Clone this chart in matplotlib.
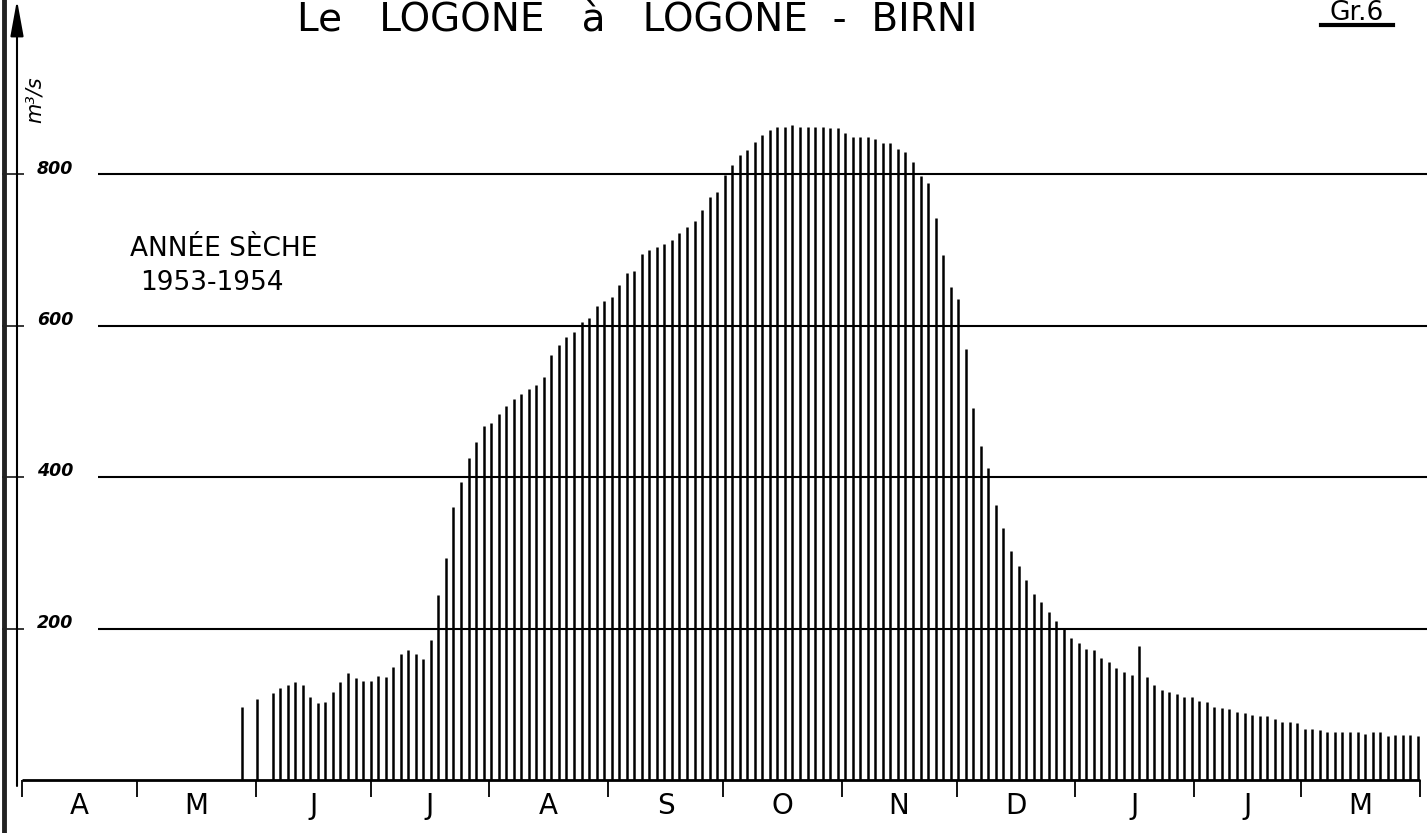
import numpy as np
import matplotlib
matplotlib.use("Agg")
import matplotlib.pyplot as plt
from matplotlib.lines import Line2D

# Logone a Logone-Birni, annee seche 1953-1954, debits en m3/s
# jours comptes depuis le 1er avril
early_days = [57.5, 61.4]
early_flow = [97, 107]

flow_start = 65.45   # premier trait regulier
flow_step = 1.967    # un trait tous les ~2 jours
flow = [115, 121, 125, 129, 125, 110, 102, 103, 116, 130, 141, 135, 131, 131,
        137, 136, 149, 166, 172, 166, 160, 185,
        245, 293, 360, 394, 425, 446, 467, 472, 484, 494, 503,
        510, 516, 522,
        532, 561, 575, 585, 592, 605, 610, 626, 633, 638, 654, 670, 673, 695,
        700, 704, 708, 714, 722,
        731, 738, 753, 770, 777, 799, 812, 825, 832, 843, 852, 858, 862, 862,
        865, 862, 863, 863, 863, 861, 861, 855, 850, 849, 849, 847, 842, 842,
        834, 830, 816, 798, 788, 743, 694, 651,
        636, 570, 492, 441, 412, 363, 333, 302, 283, 264, 246, 235, 222, 210,
        200, 188, 181, 173, 172, 161, 156, 148, 143, 139, 177, 136, 126, 119,
        116, 113, 110, 109, 105, 103, 97, 95, 94, 90, 88, 86, 85, 84, 80, 77,
        77, 75, 68, 68, 66, 63, 63, 63, 64, 63, 61, 64, 63, 58, 59, 59, 59, 58]

month_labels = ["A", "M", "J", "J", "A", "S", "O", "N", "D", "J", "J", "M"]
month_len = [30, 31, 30, 31, 31, 30, 31, 30, 31, 31, 28, 31]
y_levels = [200, 400, 600, 800]

W, H = 1427, 833
X0, PX_DAY = 22, 3.83      # pixel du 1er avril, pixels par jour
Y0, PX_Q = 780, 0.757      # pixel du zero, pixels par m3/s


def px_x(px):
    return (px - X0) / PX_DAY


def px_y(py):
    return (Y0 - py) / PX_Q


fig = plt.figure(figsize=(W / 100, H / 100), dpi=100)
ax = fig.add_axes([0, 0, 1, 1])
ax.set_xlim(px_x(0), px_x(W))
ax.set_ylim(px_y(H), px_y(0))
ax.axis("off")

# traits verticaux
days = flow_start + flow_step * np.arange(len(flow))
ax.vlines(early_days, 0, early_flow, color="black", lw=1.8)
ax.vlines(days, 0, flow, color="black", lw=1.8)

# grille horizontale + graduations
ax.hlines(y_levels, px_x(98), px_x(W), color="black", lw=1.5)
ax.hlines(y_levels, px_x(2), px_x(24), color="black", lw=1.1)
for v in y_levels:
    ax.text(px_x(37), v + 1, str(v), fontsize=12.5, fontweight="bold",
            style="italic", va="baseline", ha="left")

# axe des temps
bounds = np.cumsum([0] + month_len)
ax.hlines(0, 0, bounds[-1], color="black", lw=2)
ax.vlines(bounds, px_y(797), 0, color="black", lw=1.3)
mids = (bounds[:-1] + bounds[1:]) / 2
for m, lab in zip(mids, month_labels):
    ax.text(m, px_y(806), lab, fontsize=20, ha="center", va="center")

# axe des debits avec fleche
ax.annotate("", xy=(px_x(17), px_y(0)), xytext=(px_x(17), px_y(786)),
            arrowprops=dict(arrowstyle="-|>,head_length=1.1,head_width=0.2",
                            color="black", lw=1.5, mutation_scale=20,
                            shrinkA=0, shrinkB=0))
fig.add_artist(Line2D([4 / W, 4 / W], [0, 1], lw=3.5, color="#222222"))

fig.text(35 / W, 1 - 100 / H, "m³/s", rotation=90, style="italic",
         fontsize=15, ha="center", va="center")

# textes
fig.text(637 / W, 1 - 31 / H, "Le   LOGONE   à   LOGONE  -  BIRNI",
         ha="center", va="baseline", fontsize=28)
fig.text(1357 / W, 1 - 20 / H, "Gr.6", ha="center", va="baseline",
         fontsize=19)
fig.add_artist(Line2D([1321 / W, 1393 / W], [1 - 25 / H, 1 - 25 / H],
                      lw=3, color="black"))

fig.text(130 / W, 1 - 256 / H, "ANNÉE SÈCHE", ha="left", va="baseline",
         fontsize=19)
fig.text(140 / W, 1 - 290 / H, "1953-1954", ha="left", va="baseline",
         fontsize=19)

fig.savefig("out.png", dpi=100, facecolor="white")
